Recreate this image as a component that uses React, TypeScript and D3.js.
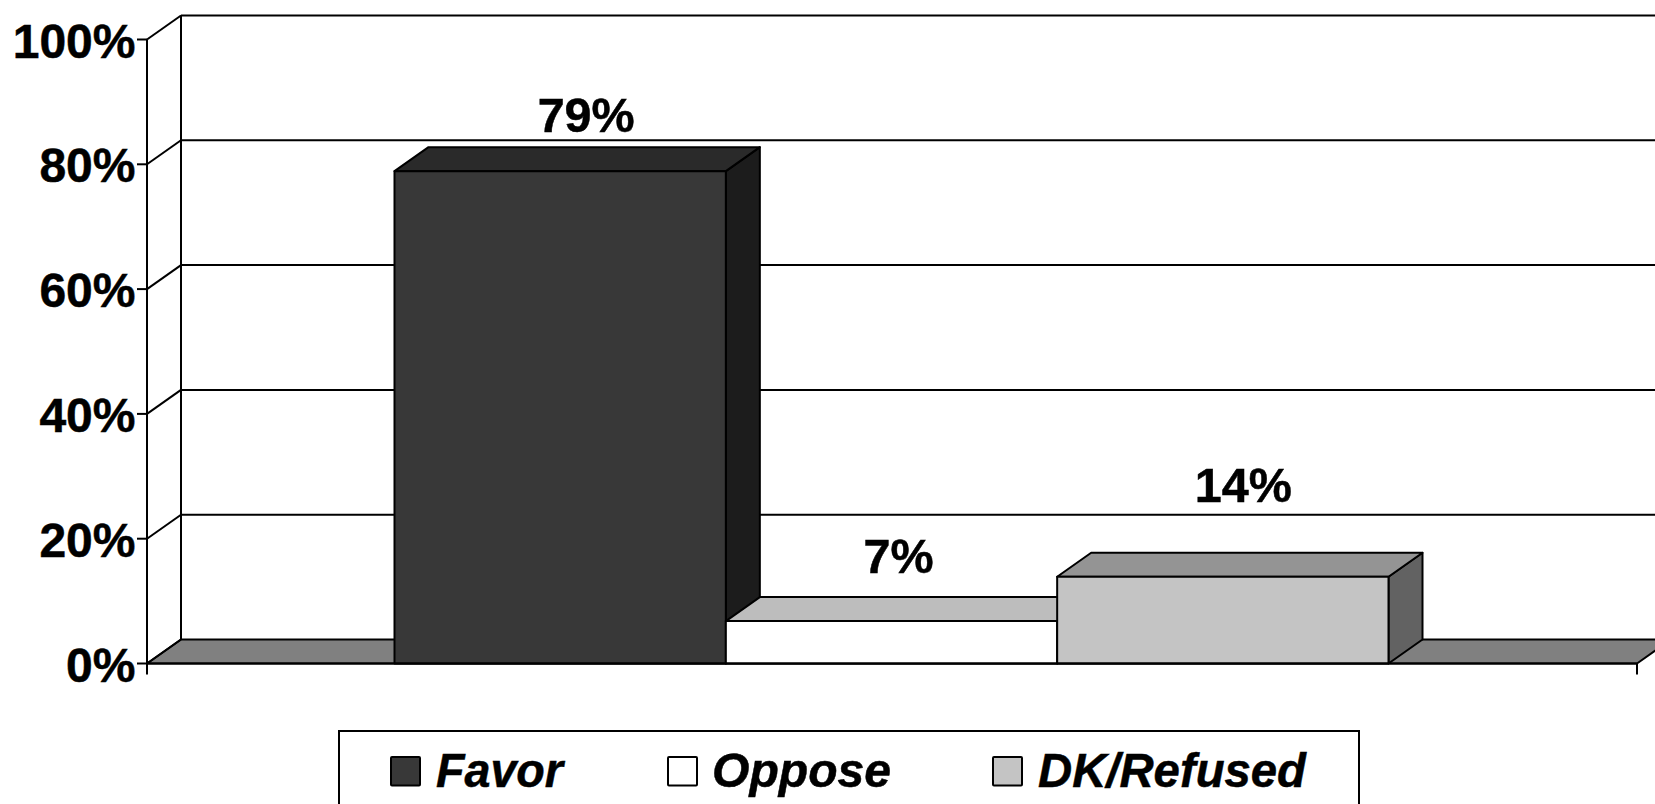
import React from "react";
import * as d3 from "d3";

const categories = ["Favor", "Oppose", "DK/Refused"];
const barValues = [78.9, 6.8, 13.9];
const barLabels = ["79%", "7%", "14%"];
const yTicks = [0, 20, 40, 60, 80, 100];
const frontColors = ["#383838", "#ffffff", "#c4c4c4"];
const topColors = ["#2a2a2a", "#bdbdbd", "#949494"];
const sideColors = ["#1c1c1c", "#808080", "#626262"];

const W = 1655;
const H = 804;
const FONT = "'Liberation Sans', Arial, sans-serif";
const DX = 34;
const DY = -24;
const LINE = 2;

const y = d3.scaleLinear().domain([0, 100]).range([663.5, 39.5]);
const x = d3.scaleBand<string>().domain(categories).range([394.5, 1388.5]).padding(0);
const axisLeft = 147;
const axisRight = 1637;

const poly = d3.line<[number, number]>().curve(d3.curveLinearClosed);
const labelShift = [-8, -27, -13.5];
const labelBaseline = [132, 573, 501.7];
const legendSwatch = [391, 668, 993];
const legendText = [436, 712, 1038];
const legendWidth = [127, 179, 268];

export default function App() {
  const bw = x.bandwidth();
  const y0 = y(0);
  return (
    <svg
      width={W}
      height={H}
      viewBox={`0 0 ${W} ${H}`}
      style={{ position: "absolute", left: 0, top: 0, background: "#fff", display: "block" }}
    >
      {/* walls */}
      <line x1={axisLeft} x2={axisLeft} y1={y(100)} y2={y0 + 11} stroke="#000" strokeWidth={LINE} />
      <line x1={axisLeft + DX} x2={axisLeft + DX} y1={y(100) + DY} y2={y0 + DY} stroke="#000" strokeWidth={LINE} />
      {/* floor */}
      <path
        d={poly([
          [axisLeft, y0],
          [axisLeft + DX, y0 + DY],
          [axisRight + DX, y0 + DY],
          [axisRight, y0],
        ]) ?? ""}
        fill="#808080"
        stroke="#000"
        strokeWidth={LINE}
        strokeLinejoin="round"
      />
      <line x1={axisRight} x2={axisRight} y1={y0} y2={y0 + 11} stroke="#000" strokeWidth={LINE} />
      {/* gridlines, ticks, axis labels */}
      {yTicks.map((t) => (
        <g key={t}>
          {t > 0 && (
            <line x1={axisLeft + DX} x2={W + 5} y1={y(t) + DY} y2={y(t) + DY} stroke="#000" strokeWidth={LINE} />
          )}
          <line x1={axisLeft} x2={axisLeft + DX} y1={y(t)} y2={y(t) + DY} stroke="#000" strokeWidth={LINE} />
          <line x1={axisLeft - 10} x2={axisLeft} y1={y(t)} y2={y(t)} stroke="#000" strokeWidth={LINE} />
          <text
            x={135.5}
            y={y(t) + 18}
            textAnchor="end"
            fontFamily={FONT}
            fontWeight="bold"
            fontSize={48}
            fill="#000"
            stroke="#000"
            strokeWidth={0.5}
          >
            {t}%
          </text>
        </g>
      ))}
      {/* bars */}
      {categories.map((c, i) => {
        const x0 = x(c) as number;
        const x1 = x0 + bw;
        const top = y(barValues[i]);
        const side: [number, number][] = [
          [x1, top],
          [x1 + DX, top + DY],
          [x1 + DX, y0 + DY],
          [x1, y0],
        ];
        const roof: [number, number][] = [
          [x0, top],
          [x0 + DX, top + DY],
          [x1 + DX, top + DY],
          [x1, top],
        ];
        const front: [number, number][] = [
          [x0, top],
          [x1, top],
          [x1, y0],
          [x0, y0],
        ];
        return (
          <g key={c} stroke="#000" strokeWidth={LINE} strokeLinejoin="round">
            <path d={poly(side) ?? ""} fill={sideColors[i]} />
            <path d={poly(roof) ?? ""} fill={topColors[i]} />
            <path d={poly(front) ?? ""} fill={frontColors[i]} />
          </g>
        );
      })}
      <line x1={axisLeft} x2={axisRight} y1={y0} y2={y0} stroke="#000" strokeWidth={LINE} />
      {/* bar labels */}
      {categories.map((c, i) => (
        <text
          key={c}
          x={(x(c) as number) + bw / 2 + DX + labelShift[i]}
          y={labelBaseline[i]}
          textAnchor="middle"
          fontFamily={FONT}
          fontWeight="bold"
          fontSize={48.5}
          fill="#000"
          stroke="#000"
          strokeWidth={0.5}
        >
          {barLabels[i]}
        </text>
      ))}
      {/* legend */}
      <rect x={339} y={731} width={1020} height={120} fill="#fff" stroke="#000" strokeWidth={LINE} />
      {categories.map((c, i) => (
        <g key={c}>
          <rect
            x={legendSwatch[i]}
            y={757}
            width={29}
            height={28.5}
            rx={1}
            fill={frontColors[i]}
            stroke="#000"
            strokeWidth={LINE}
          />
          <text
            x={legendText[i]}
            y={787}
            fontFamily={FONT}
            fontWeight="bold"
            fontStyle="italic"
            fontSize={48}
            textLength={legendWidth[i]}
            lengthAdjust="spacingAndGlyphs"
            fill="#000"
            stroke="#000"
            strokeWidth={0.5}
          >
            {c}
          </text>
        </g>
      ))}
    </svg>
  );
}
